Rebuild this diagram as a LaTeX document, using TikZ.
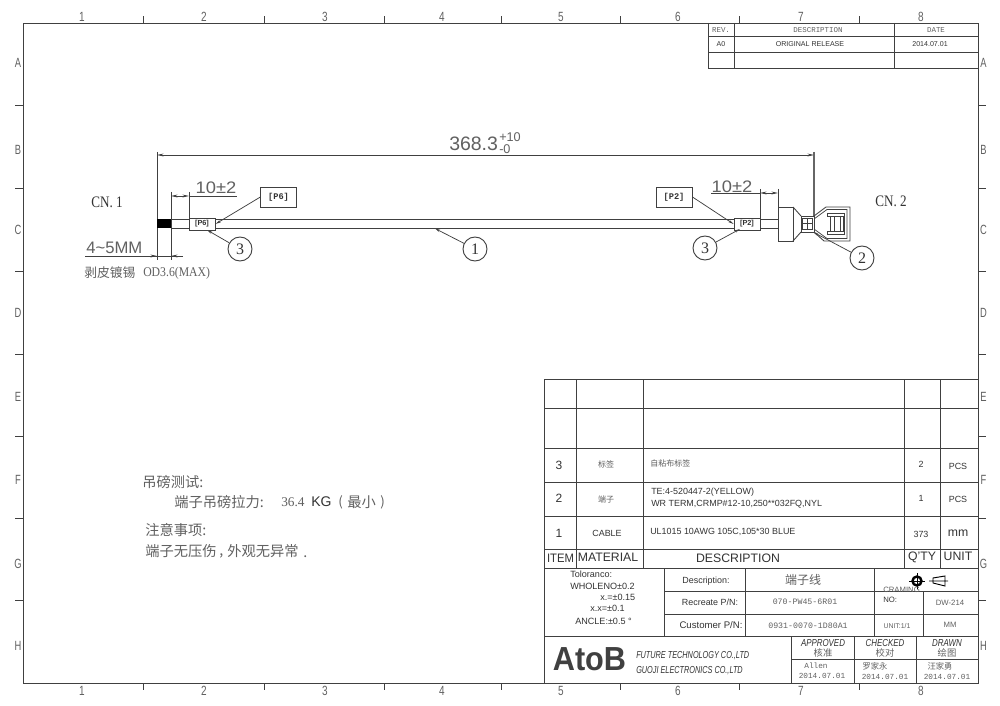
\documentclass[tikz,border=0pt]{standalone}
\usepackage{fontspec}
\usepackage{graphicx}
\setmainfont{Liberation Sans}
\newfontfamily\cjk{Noto Sans CJK SC}
\newfontfamily\srf{Liberation Serif}
\newfontfamily\mon{Liberation Mono}
\usetikzlibrary{arrows.meta}
\newcommand\fs[1]{\fontsize{#1}{#1}\selectfont}
\newcommand\sx[2]{\scalebox{#1}[1]{#2}}
\definecolor{ink}{gray}{0.2}
\definecolor{soft}{gray}{0.38}
\definecolor{lin}{gray}{0.25}
\tikzset{
  base/.style={inner sep=0pt,text=ink},
  lbl/.style={base,anchor=west},
  zone/.style={base,font=\fs{10},text=soft},
  rule/.style={draw=lin,line width=0.65pt},
  thick rule/.style={draw=lin,line width=0.7pt},
  fine/.style={draw=lin,line width=0.55pt},
  dim/.style={fine,{Stealth[length=5pt,width=2.2pt]}-{Stealth[length=5pt,width=2.2pt]}},
  leader/.style={fine,-{Stealth[length=4pt,width=1.8pt]}},
  balloon/.style={circle,draw=lin,line width=0.7pt,minimum size=18pt,inner sep=0pt,font=\srf\fs{12},text=ink},
  tag/.style={rectangle,draw=lin,line width=0.7pt,inner sep=0pt,font=\fs{5.5}\bfseries,text=ink},
  bomt/.style={base,font=\fs{6.7}},
  bomh/.style={base,font=\fs{9.2}},
  bcjk/.style={base,font=\cjk\fs{6},text=soft},
  smal/.style={base,font=\fs{5.3}},
  monot/.style={base,font=\mon\fs{6.2},text=soft},
  dimt/.style={base,font=\fs{12.5},text=soft},
  note/.style={base,anchor=west,font=\cjk\fs{10.7},text=soft},
  ital/.style={base,font=\itshape\fs{7.6}},
  sig/.style={base,font=\cjk\fs{7},text=soft}
}
\begin{document}
\begin{tikzpicture}[x=0.75pt,y=-0.75pt]
\useasboundingbox (0,0) rectangle (1000,706);
\fill[white] (0,0) rectangle (1000,706);
% frame
\draw[rule] (23,23) rectangle (978,683);
\foreach \x in {143,264,384,501,620,739,859}{
  \draw[fine] (\x,23) -- (\x,16);
  \draw[fine] (\x,683) -- (\x,690);
}
\foreach \y in {105,188,271,354,436,518,600}{
  \draw[fine] (23,\y) -- (15,\y);
  \draw[fine] (978,\y) -- (986,\y);
}
\foreach \t/\x [count=\i] in {1/82,2/204,3/325,4/442,5/561,6/678,7/801,8/921}{
  \node[zone] (zt\i) at (\x,17) {\sx{0.75}{\t}};
  \node[zone] (zb\i) at (\x,691) {\sx{0.75}{\t}};
}
\foreach \t/\y [count=\i] in {A/63,B/150,C/230,D/313,E/397,F/480,G/564,H/646}{
  \node[zone] (zl\i) at (18,\y) {\sx{0.7}{\t}};
  \node[zone] (zr\i) at (983.5,\y) {\sx{0.7}{\t}};
}
% revision table
\draw[thick rule] (708,23) -- (708,68) -- (978,68);
\draw[rule] (708,36) -- (978,36) (708,52) -- (978,52);
\draw[thick rule] (734,23) -- (734,68) (894,23) -- (894,68);
\node[base,font=\mon\fs{5.6},text=soft] (rv1) at (721,30) {REV.};
\node[base,font=\mon\fs{5.6},text=soft] (rv2) at (818,30) {DESCRIPTION};
\node[base,font=\mon\fs{5.6},text=soft] (rv3) at (936,30) {DATE};
\node[smal] (rv4) at (721,44.5) {A0};
\node[smal] (rv5) at (810,44.5) {ORIGINAL RELEASE};
\node[smal] (rv6) at (930,44.5) {2014.07.01};
% overall dimension
\coordinate (dl) at (157,155);
\coordinate (dr) at (814,155);
\draw[dim] (dl) -- (dr);
\draw[fine] (157,152) -- (157,260);
\draw[draw=black!60,line width=1pt] (814,152) -- (814,216);
\node[base,font=\fs{14.6},anchor=west,text=soft] (len) at (449,143.5) {368.3};
\node[base,font=\fs{9.5},anchor=west,text=soft] (lenu) at (499,137) {+10};
\node[base,font=\fs{9.5},anchor=west,text=soft] (lenl) at (499,149) {-0};
% cable
\draw[rule] (171,219) -- (778,219) (171,228.5) -- (778,228.5);
\fill[black] (157,219.5) rectangle (171,228);
\draw[fine] (171,192) -- (171,260);
\draw[fine] (189,192) -- (189,218);
\draw[fine] (760,189) -- (760,218);
\draw[fine] (778,189) -- (778,207);
% tags on cable
\node[tag,fill=white,minimum width=19.5pt,minimum height=9pt] (tagL) at (202,224) {[P6]};
\node[tag,fill=white,minimum width=19.5pt,minimum height=9pt] (tagR) at (747,224) {[P2]};
\node[tag,font=\mon\fs{6.5}\bfseries,minimum width=26.5pt,minimum height=15pt] (boxL) at (278.5,197) {[P6]};
\node[tag,font=\mon\fs{6.5}\bfseries,minimum width=27pt,minimum height=15pt] (boxR) at (674,197) {[P2]};
\draw[leader] (boxL.west) -- (tagL.east);
\draw[leader] (boxR.east) -- (tagR.west);
% balloons
\node[balloon] (b3L) at (240,249) {3};
\node[balloon] (b3R) at (705,248) {3};
\node[balloon] (b1) at (475,249) {1};
\node[balloon] (b2) at (862,258) {2};
\coordinate (c1) at (435,228.5);
\coordinate (c2) at (813,232);
\coordinate (c3L) at (207,230);
\coordinate (c3R) at (740,229);
\draw[leader] (b1) -- (c1);
\draw[leader] (b2) -- (c2);
\draw[leader] (b3L) -- (c3L);
\draw[leader] (b3R) -- (c3R);
% small dimensions
\draw[dim] (171,196) -- (189,196);
\draw[fine] (189,196) -- (237,196);
\node[dimt] (d10L) at (216,188) {\sx{1.1}{10±2}};
\draw[dim] (760,193) -- (778,193);
\draw[fine] (711,193) -- (760,193);
\node[dimt] (d10R) at (732,187) {\sx{1.1}{10±2}};
\draw[fine] (85,256) -- (183,256);
\draw[fine,-{Stealth[length=5pt,width=2.2pt]}] (150,256) -- (157,256);
\draw[fine,-{Stealth[length=5pt,width=2.2pt]}] (183,256) -- (171,256);
\node[dimt,anchor=west] (strip) at (86,248) {4\char"007E 5MM};
\node[base,anchor=west,font=\cjk\fs{9.6},text=soft] (stripc) at (84,273) {剥皮镀锡};
\node[base,anchor=west,font=\srf\fs{10},text=soft] (stripd) at (143,273) {\sx{0.88}{OD3.6(MAX)}};
\node[base,font=\srf\fs{12}] (cn1) at (107,202) {\sx{0.82}{CN. 1}};
\node[base,font=\srf\fs{12}] (cn2) at (891,201) {\sx{0.82}{CN. 2}};
% connector
\draw[rule,fill=white] (778,207) rectangle (793,241);
\draw[rule] (793,207) -- (801,216) (793,241) -- (801,232);
\draw[rule] (801,216) rectangle (814,232);
\draw[rule] (802.5,218) rectangle (812.5,229.5);
\draw[fine] (807,218) -- (807,229.5) (802.5,223.5) -- (812.5,223.5);
\draw[rule] (814,216) -- (826,207) -- (850,207) -- (850,241) -- (824,241) -- (814,232);
\draw[fine] (814,219) -- (827,209.5) -- (847,209.5) -- (847,238.5) -- (827,238.5) -- (814,229);
\draw[rule] (827,213) -- (844,213) -- (844,234) -- (827,234);
\draw[fine] (827,213) -- (827,216.5) -- (844,216.5) (827,234) -- (827,231) -- (844,231);
\draw[rule] (830,216.5) -- (830,231) (834,216.5) -- (834,231);
\draw[rule] (840,216.5) -- (840,231) (843,216.5) -- (843,231);
% notes
\node[note] (n1) at (142,482) {吊磅测试:};
\node[note] (n2) at (174,502) {端子吊磅拉力:};
\node[base,anchor=west,font=\srf\fs{10},text=soft] (n3) at (281,502) {36.4};
\node[base,anchor=west,font=\fs{10.5}] (n4) at (311,502) {KG};
\node[base,anchor=west,font=\cjk\fs{10},text=soft] (n5) at (338,502) {(};
\node[note] (n6) at (347,502) {最小};
\node[base,anchor=west,font=\cjk\fs{10},text=soft] (n7) at (380,502) {)};
\node[note] (n8) at (145,530) {注意事项:};
\node[note] (n9) at (145,551) {端子无压伤};
\node[note] (n9b) at (219,556) {,};
\node[note] (n9c) at (227,551) {外观无异常};
\node[note] (n9d) at (303,557) {.};
% BOM table
\draw[thick rule] (544,683) -- (544,379) -- (978,379);
\draw[rule] (544,408) -- (978,408) (544,448) -- (978,448) (544,482) -- (978,482) (544,516) -- (978,516);
\draw[thick rule] (544,549) -- (978,549) (544,568) -- (978,568);
\foreach \x in {576,643,904,940}{\draw[rule] (\x,379) -- (\x,568);}
\node[base,font=\fs{9}] (i3) at (559,465) {3};
\node[bcjk] (m3) at (606,464) {标签};
\node[bcjk,anchor=west] (d3) at (650,463) {自粘布标签};
\node[bomt] (q3) at (921,464) {2};
\node[bomt] (u3) at (958,466) {PCS};
\node[base,font=\fs{9}] (i2) at (559,498) {2};
\node[bcjk] (m2) at (606,499) {端子};
\node[bomt,anchor=west] (d2a) at (651,492) {TE:4-520447-2(YELLOW)};
\node[bomt,anchor=west] (d2b) at (651,504) {WR TERM,CRMP\#12-10,250**032FQ,NYL};
\node[bomt] (q2) at (921,498) {1};
\node[bomt] (u2) at (958,499) {PCS};
\node[base,font=\fs{9}] (i1) at (559,533) {1};
\node[bomt] (m1) at (607,533) {CABLE};
\node[bomt,anchor=west] (d1) at (650,532) {UL1015 10AWG 105C,105*30 BLUE};
\node[bomt] (q1) at (921,534) {373};
\node[base,font=\fs{9.2}] (u1) at (958,533) {mm};
\node[bomh] (hi) at (560.5,558) {\sx{0.92}{ITEM}};
\node[bomh] (hm) at (608,557) {MATERIAL};
\node[bomh] (hd) at (738,558) {DESCRIPTION};
\node[bomh] (hq) at (922,557) {Q'TY};
\node[bomh] (hu) at (958,556) {UNIT};
% tolerance and description block
\draw[rule] (664,568) -- (664,636) (745,568) -- (745,636) (874,568) -- (874,636);
\draw[rule] (923,591) -- (923,636);
\draw[rule] (664,591) -- (978,591) (664,614) -- (978,614);
\draw[thick rule] (544,636) -- (978,636);
\node[lbl,font=\fs{6.8}] (t1) at (570,574) {Toloranco:};
\node[lbl,font=\fs{6.8}] (t2) at (570,586) {WHOLENO±0.2};
\node[lbl,font=\fs{6.8}] (t3) at (600,597) {x.=±0.15};
\node[lbl,font=\fs{6.8}] (t4) at (590,608) {x.x=±0.1};
\node[lbl,font=\fs{6.8}] (t5) at (575,621) {ANCLE:±0.5 °};
\node[base,font=\fs{6.7}] (f1) at (706,581) {Description:};
\node[base,font=\fs{6.7}] (f2) at (710,602) {Recreate P/N:};
\node[base,font=\fs{7.2}] (f3) at (711,625) {Customer P/N:};
\node[base,font=\cjk\fs{9},text=soft] (v1) at (803,580) {端子线};
\node[monot] (v2) at (805,602) {070-PW45-6R01};
\node[monot] (v3) at (808,626) {0931-0070-1D80A1};
% projection symbol
\coordinate (sc) at (917,581);
\draw[line width=1.8pt,draw=black] (sc) circle[radius=4.5];
\draw[line width=0.7pt,draw=black] (909,581) -- (925,581) (917,573) -- (917,589);
\draw[line width=0.7pt,draw=black] (933,578) -- (945,576) -- (945,586) -- (933,583) -- cycle (929,581) -- (948,581);
\node[base,anchor=west,font=\fs{5.8},text=soft] (s1) at (883,590) {CRAMING};
\node[base,anchor=west,font=\fs{5.8},text=ink] (s2) at (883,600) {NO:};
\node[base,font=\fs{5.8},text=soft] (s3) at (950,603) {DW-214};
\node[base,font=\fs{5.2},text=soft] (s4) at (897,626) {UNIT:1/1};
\node[base,font=\fs{5.8},text=soft] (s5) at (950,625) {MM};
% title block
\draw[rule] (791,636) -- (791,683) (854,636) -- (854,683) (916,636) -- (916,683);
\draw[rule] (791,659) -- (978,659);
\node[base,font=\bfseries\fs{25},text=black!75] (logo) at (589.5,659.5) {\sx{0.92}{AtoB}};
\node[ital,anchor=west] (co1) at (636,656) {\sx{0.72}{FUTURE TECHNOLOGY CO.,LTD}};
\node[ital,anchor=west] (co2) at (636,671) {\sx{0.72}{GUOJI ELECTRONICS CO.,LTD}};
\node[ital] (a1) at (823,643.5) {\sx{0.78}{APPROVED}};
\node[ital] (a2) at (885,643.5) {\sx{0.78}{CHECKED}};
\node[ital] (a3) at (947,643.5) {\sx{0.78}{DRAWN}};
\node[sig] (c1t) at (823,652.5) {核准};
\node[sig] (c2t) at (885,652.5) {校对};
\node[sig] (c3t) at (947,652.5) {绘图};
\node[monot,font=\mon\fs{5.8}] (sg1) at (816,666) {Allen};
\node[bcjk,font=\cjk\fs{6.2}] (sg2) at (875,666) {罗家永};
\node[bcjk,font=\cjk\fs{6.2}] (sg3) at (940,666) {汪家勇};
\node[monot,font=\mon\fs{5.8}] (dt1) at (822,676) {2014.07.01};
\node[monot,font=\mon\fs{5.8}] (dt2) at (885,677) {2014.07.01};
\node[monot,font=\mon\fs{5.8}] (dt3) at (947,677) {2014.07.01};
\end{tikzpicture}
\end{document}
